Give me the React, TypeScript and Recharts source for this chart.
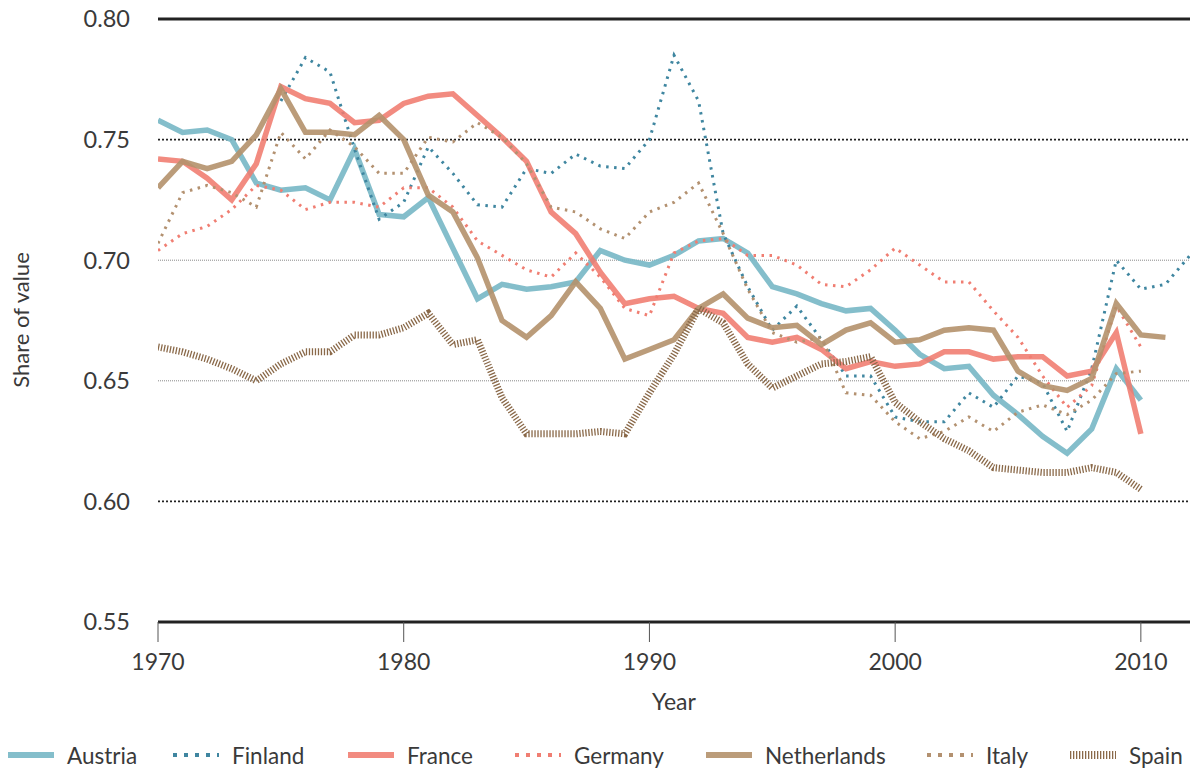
import React from 'react';
import { LineChart, Line, XAxis, YAxis, ReferenceLine, Legend } from 'recharts';

const years = [
  1970, 1971, 1972, 1973, 1974, 1975, 1976, 1977, 1978, 1979,
  1980, 1981, 1982, 1983, 1984, 1985, 1986, 1987, 1988, 1989,
  1990, 1991, 1992, 1993, 1994, 1995, 1996, 1997, 1998, 1999,
  2000, 2001, 2002, 2003, 2004, 2005, 2006, 2007, 2008, 2009,
  2010, 2011, 2012,
];

const austria = [
  0.758, 0.753, 0.754, 0.750, 0.732, 0.729, 0.730, 0.725, 0.746, 0.719,
  0.718, 0.726, 0.705, 0.684, 0.690, 0.688, 0.689, 0.691, 0.704, 0.700,
  0.698, 0.702, 0.708, 0.709, 0.703, 0.689, 0.686, 0.682, 0.679, 0.680,
  0.671, 0.661, 0.655, 0.656, 0.644, 0.636, 0.627, 0.620, 0.630, 0.655,
  0.642, null, null,
];

const finland = [
  null, null, null, null, null, 0.766, 0.784, 0.778, 0.746, 0.717,
  0.724, 0.747, 0.736, 0.723, 0.722, 0.738, 0.736, 0.744, 0.739, 0.738,
  0.750, 0.785, 0.766, 0.711, 0.689, 0.671, 0.681, 0.667, 0.652, 0.652,
  0.635, 0.633, 0.633, 0.645, 0.639, 0.652, 0.649, 0.629, 0.655, 0.700,
  0.688, 0.690, 0.702,
];

const france = [
  0.742, 0.741, 0.734, 0.725, 0.740, 0.772, 0.767, 0.765, 0.757, 0.758,
  0.765, 0.768, 0.769, 0.760, 0.751, 0.741, 0.720, 0.711, 0.695, 0.682,
  0.684, 0.685, 0.680, 0.678, 0.668, 0.666, 0.668, 0.663, 0.655, 0.658,
  0.656, 0.657, 0.662, 0.662, 0.659, 0.660, 0.660, 0.652, 0.654, 0.670,
  0.628, null, null,
];

const germany = [
  0.704, 0.711, 0.714, 0.721, 0.731, 0.729, 0.721, 0.724, 0.724, 0.722,
  0.730, 0.730, 0.722, 0.708, 0.702, 0.696, 0.693, 0.703, 0.693, 0.680,
  0.677, 0.703, 0.708, 0.709, 0.702, 0.702, 0.698, 0.690, 0.689, 0.696,
  0.705, 0.698, 0.691, 0.691, 0.679, 0.668, 0.652, 0.639, 0.648, 0.681,
  0.664, null, null,
];

const netherlands = [
  0.730, 0.741, 0.738, 0.741, 0.752, 0.771, 0.753, 0.753, 0.752, 0.760,
  0.750, 0.727, 0.720, 0.701, 0.675, 0.668, 0.677, 0.691, 0.680, 0.659,
  0.663, 0.667, 0.680, 0.686, 0.676, 0.672, 0.673, 0.665, 0.671, 0.674,
  0.666, 0.667, 0.671, 0.672, 0.671, 0.654, 0.648, 0.646, 0.651, 0.682,
  0.669, 0.668, null,
];

const italy = [
  0.707, 0.728, 0.731, 0.728, 0.722, 0.753, 0.742, 0.754, 0.747, 0.736,
  0.736, 0.751, 0.749, 0.757, 0.751, 0.740, 0.722, 0.720, 0.713, 0.709,
  0.720, 0.724, 0.732, 0.711, 0.688, 0.670, 0.666, 0.668, 0.645, 0.644,
  0.633, 0.626, 0.629, 0.635, 0.629, 0.637, 0.640, 0.636, 0.642, 0.653,
  0.654, null, null,
];

const spain = [
  0.664, 0.662, 0.659, 0.655, 0.650, 0.657, 0.662, 0.662, 0.669, 0.669,
  0.672, 0.678, 0.665, 0.667, 0.643, 0.628, 0.628, 0.628, 0.629, 0.628,
  0.645, 0.661, 0.680, 0.674, 0.657, 0.647, 0.652, 0.657, 0.658, 0.660,
  0.641, 0.633, 0.626, 0.621, 0.614, 0.613, 0.612, 0.612, 0.614, 0.612,
  0.605, null, null,
];

const xTicks = [1970, 1980, 1990, 2000, 2010];
const yTicks = [0.55, 0.6, 0.65, 0.7, 0.75, 0.8];

const data = years.map((year, i) => ({
  year,
  Austria: austria[i],
  Finland: finland[i],
  France: france[i],
  Germany: germany[i],
  Netherlands: netherlands[i],
  Italy: italy[i],
  Spain: spain[i],
}));

const FONT = 'Lato, "Open Sans", sans-serif';
const TEXT = '#3a3a3a';

type SeriesStyle = {
  key: string;
  color: string;
  width: number;
  dash?: string;
  opacity: number;
  legendDash?: string;
  legendWidth: number;
  legendLeft: number;
};

const series: SeriesStyle[] = [
  { key: 'Austria', color: '#7ab8c7', width: 5.5, opacity: 0.92, legendWidth: 6, legendLeft: 8 },
  { key: 'Finland', color: '#3f86a0', width: 3, dash: '2.5 5.5', opacity: 1, legendDash: '4 7', legendWidth: 4, legendLeft: 173 },
  { key: 'France', color: '#f07b6e', width: 5.5, opacity: 0.88, legendWidth: 6, legendLeft: 348 },
  { key: 'Germany', color: '#f07e72', width: 3, dash: '2.5 5.5', opacity: 1, legendDash: '4 7', legendWidth: 4, legendLeft: 515 },
  { key: 'Netherlands', color: '#b4916b', width: 5.5, opacity: 0.9, legendWidth: 6, legendLeft: 706 },
  { key: 'Italy', color: '#b39170', width: 3, dash: '2.5 5.5', opacity: 1, legendDash: '4 7', legendWidth: 4, legendLeft: 927 },
  { key: 'Spain', color: '#8a6949', width: 7, dash: '1.3 1.7', opacity: 1, legendDash: '1.3 1.7', legendWidth: 8, legendLeft: 1070 },
];

const gridStyles: Record<string, { stroke: string; width: number; dash?: string }> = {
  '0.80': { stroke: '#222', width: 3 },
  '0.75': { stroke: '#222', width: 1.6, dash: '2 2' },
  '0.70': { stroke: '#888', width: 1, dash: '1 1' },
  '0.65': { stroke: '#888', width: 1, dash: '1 1' },
  '0.60': { stroke: '#222', width: 1.6, dash: '2 2' },
  '0.55': { stroke: '#222', width: 3 },
};

const renderLegend = () => (
  <div
    style={{
      position: 'relative',
      height: 30,
      fontFamily: FONT,
      fontSize: 22.5,
      fontWeight: 400,
      color: TEXT,
    }}
  >
    {series.map((s) => (
      <div
        key={s.key}
        style={{
          position: 'absolute',
          left: s.legendLeft,
          top: 0,
          height: 30,
          display: 'flex',
          alignItems: 'center',
          whiteSpace: 'nowrap',
        }}
      >
        <svg width={46} height={12} style={{ marginRight: 13 }}>
          <line
            x1={0}
            x2={46}
            y1={6}
            y2={6}
            stroke={s.color}
            strokeWidth={s.legendWidth}
            strokeDasharray={s.legendDash}
            strokeOpacity={s.opacity}
          />
        </svg>
        <span>{s.key}</span>
      </div>
    ))}
  </div>
);

const YLabel = () => (
  <text
    x={20}
    y={320}
    transform="rotate(-90, 20, 320)"
    textAnchor="middle"
    dominantBaseline="central"
    fill={TEXT}
    fontSize={22}
    fontFamily={FONT}
    fontWeight={400}
  >
    Share of value
  </text>
);

export default function App() {
  return (
    <div style={{ position: 'absolute', left: 0, top: 0, width: 1197, height: 774, background: '#fff' }}>
      <LineChart
        width={1197}
        height={774}
        data={data}
        margin={{ top: 19, right: 7, bottom: 52, left: 8 }}
      >
        {yTicks.map((t) => {
          const g = gridStyles[t.toFixed(2)];
          return (
            <ReferenceLine
              key={t}
              y={t}
              stroke={g.stroke}
              strokeWidth={g.width}
              strokeDasharray={g.dash}
            />
          );
        })}
        <XAxis
          dataKey="year"
          type="number"
          domain={[1970, 2012]}
          ticks={xTicks}
          allowDataOverflow
          height={100}
          tickSize={20}
          tickMargin={12}
          axisLine={false}
          tickLine={{ stroke: '#555', strokeWidth: 1 }}
          tick={{ fill: TEXT, fontSize: 23, fontFamily: FONT, fontWeight: 400 }}
          label={{
            value: 'Year',
            position: 'insideBottom',
            offset: 12,
            fill: TEXT,
            fontSize: 23,
            fontFamily: FONT,
            fontWeight: 400,
          }}
        />
        <YAxis
          type="number"
          domain={[0.55, 0.8]}
          ticks={yTicks}
          width={150}
          tickSize={0}
          tickMargin={28}
          axisLine={false}
          tickLine={false}
          tickFormatter={(v: number) => v.toFixed(2)}
          tick={{ fill: TEXT, fontSize: 23.5, fontFamily: FONT, fontWeight: 400 }}
          label={<YLabel />}
        />
        {series.map((s) => (
          <Line
            key={s.key}
            type="linear"
            dataKey={s.key}
            stroke={s.color}
            strokeWidth={s.width}
            strokeDasharray={s.dash}
            strokeOpacity={s.opacity}
            strokeLinejoin="miter"
            dot={false}
            activeDot={false}
            connectNulls={false}
            isAnimationActive={false}
          />
        ))}
        <Legend
          layout="horizontal"
          verticalAlign="middle"
          align="center"
          wrapperStyle={{ top: 740, left: 0, width: 1197 }}
          content={renderLegend}
        />
      </LineChart>
    </div>
  );
}
